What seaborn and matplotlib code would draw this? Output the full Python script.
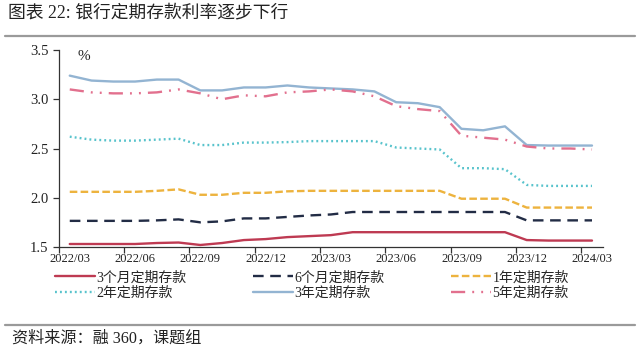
import matplotlib
matplotlib.use("Agg")
import matplotlib.pyplot as plt
from matplotlib.lines import Line2D
import seaborn as sns
import pandas as pd

months = ['2022/03', '2022/04', '2022/05', '2022/06', '2022/07', '2022/08', '2022/09',
          '2022/10', '2022/11', '2022/12', '2023/01', '2023/02', '2023/03', '2023/04',
          '2023/05', '2023/06', '2023/07', '2023/08', '2023/09', '2023/10', '2023/11',
          '2023/12', '2024/01', '2024/02', '2024/03']

rate_3m = [1.53, 1.53, 1.53, 1.53, 1.54, 1.545, 1.52, 1.54, 1.57, 1.58, 1.60, 1.61, 1.62,
           1.65, 1.65, 1.65, 1.65, 1.65, 1.65, 1.65, 1.65, 1.57, 1.565, 1.565, 1.565]
rate_6m = [1.765, 1.765, 1.765, 1.765, 1.77, 1.78, 1.75, 1.76, 1.79, 1.79, 1.805, 1.82, 1.83,
           1.855, 1.855, 1.855, 1.855, 1.855, 1.855, 1.855, 1.855, 1.77, 1.77, 1.77, 1.77]
rate_1y = [2.06, 2.06, 2.06, 2.06, 2.07, 2.085, 2.03, 2.03, 2.05, 2.05, 2.065, 2.07, 2.07,
           2.07, 2.07, 2.07, 2.07, 2.07, 1.99, 1.99, 1.99, 1.90, 1.90, 1.90, 1.90]
rate_2y = [2.62, 2.59, 2.58, 2.58, 2.59, 2.60, 2.535, 2.535, 2.56, 2.56, 2.565, 2.575, 2.575,
           2.575, 2.575, 2.51, 2.50, 2.49, 2.30, 2.30, 2.29, 2.13, 2.12, 2.12, 2.12]
rate_3y = [3.24, 3.19, 3.18, 3.18, 3.20, 3.20, 3.09, 3.09, 3.12, 3.12, 3.14, 3.12, 3.11,
           3.10, 3.08, 2.97, 2.96, 2.92, 2.70, 2.685, 2.725, 2.535, 2.53, 2.53, 2.53]
rate_5y = [3.10, 3.07, 3.06, 3.06, 3.07, 3.10, 3.06, 3.00, 3.04, 3.03, 3.07, 3.08, 3.10,
           3.08, 3.03, 2.93, 2.90, 2.88, 2.63, 2.61, 2.59, 2.52, 2.50, 2.50, 2.49]

series_names = ['3个月定期存款', '6个月定期存款', '1年定期存款',
                '2年定期存款', '3年定期存款', '5年定期存款']
series_values = [rate_3m, rate_6m, rate_1y, rate_2y, rate_3y, rate_5y]
colors = ['#BE3A52', '#222C45', '#EDB33E', '#58C3CC', '#93B4D2', '#E2708E']
dashes = [None, (4.5, 2.8), (3.2, 1.4), (0.8, 1.3), None, (6, 3, 0.8, 3, 0.8, 3)]

sns.set_style("white")
plt.rcParams['font.family'] = ['Liberation Serif', 'Noto Sans CJK SC']

fig = plt.figure(figsize=(6.4, 3.6), dpi=100)
ax = fig.add_axes([0.092, 0.314, 0.85, 0.547])

idx = list(range(len(months)))
handles = []
for name, vals, col, ds in zip(series_names, series_values, colors, dashes):
    df = pd.DataFrame({'x': idx, 'y': vals})
    sns.lineplot(data=df, x='x', y='y', ax=ax, color=col, linewidth=1.7)
    ln = ax.lines[-1]
    if ds is not None:
        ln.set_dashes(ds)
    handles.append(ln)

ax.set_xlim(-0.5, len(months) - 0.5)
ax.set_ylim(1.5, 3.5)
ax.set_yticks([1.5, 2.0, 2.5, 3.0, 3.5])
ax.set_yticklabels(['1.5', '2.0', '2.5', '3.0', '3.5'])
ax.set_xticks(idx[::3])
ax.set_xticklabels(months[::3])
ax.set_xticks([i - 0.5 for i in idx[::3]], minor=True)
ax.tick_params(axis='x', which='major', length=0, pad=4, labelsize=9, colors='#222222')
ax.tick_params(axis='x', which='minor', length=4, width=0.9, direction='out', color='#333333', bottom=True)
ax.tick_params(axis='y', length=4, width=0.9, direction='out', labelsize=10.5, colors='#222222',
               color='#333333', left=True)
ax.set_xlabel('')
ax.set_ylabel('')
for s in ['top', 'right']:
    ax.spines[s].set_visible(False)
for s in ['left', 'bottom']:
    ax.spines[s].set_color('#333333')
    ax.spines[s].set_linewidth(0.9)

ax.text(0.035, 1.0, '%', transform=ax.transAxes, fontsize=11, va='top', ha='left', color='#222222')

order = [0, 3, 1, 4, 2, 5]
leg = fig.legend([handles[i] for i in order], [series_names[i] for i in order],
                 ncol=3, loc='upper left', bbox_to_anchor=(0.086, 0.247), frameon=False,
                 fontsize=10, handlelength=2.9, handletextpad=0.1, columnspacing=4.75,
                 labelspacing=0.15, borderaxespad=0, borderpad=0)

fig.text(0.012, 0.963, '图表 22: 银行定期存款利率逐步下行', fontsize=12.8, va='center', ha='left', color='#222222')
fig.add_artist(Line2D([0.008, 0.992], [0.9, 0.9], color='#9A9A9A', linewidth=1.6))
fig.add_artist(Line2D([0.008, 0.992], [0.097, 0.097], color='#9A9A9A', linewidth=1.6))
fig.text(0.018, 0.058, '资料来源：融 360，课题组', fontsize=11.6, va='center', ha='left', color='#222222')

fig.savefig('out.png', dpi=100)
